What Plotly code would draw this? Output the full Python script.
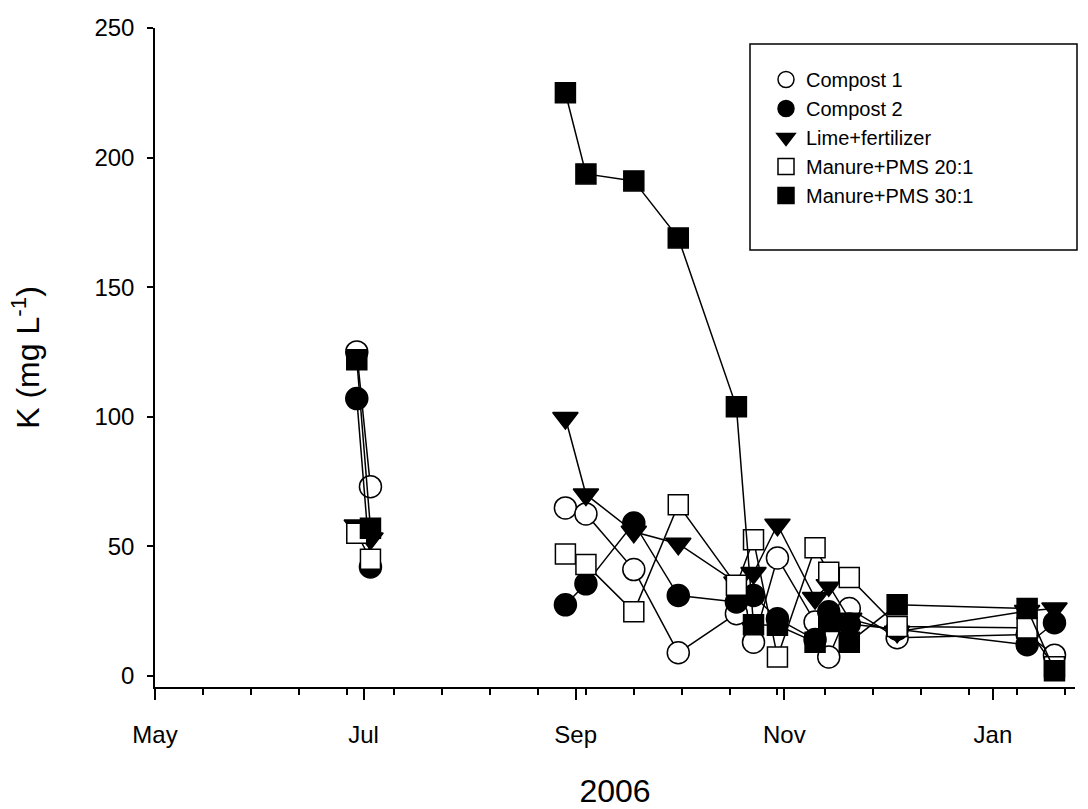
import plotly.graph_objects as go

# ---- data ----
dates_summer = ["2006-06-29", "2006-07-03"]
dates_fall = ["2006-08-29", "2006-09-04", "2006-09-18", "2006-10-01", "2006-10-18",
              "2006-10-23", "2006-10-30", "2006-11-10", "2006-11-14", "2006-11-20",
              "2006-12-04", "2007-01-11", "2007-01-19"]

compost1_summer = [125, 73]
compost1_fall = [64.8, 62.5, 41, 8.9, 24, 13, 45.5, 20.8, 7.3, 26, 14.7, 16, 8]
compost2_summer = [107, 42]
compost2_fall = [27.4, 35.5, 59, 31, 28.5, 31, 22, 14, 24.7, 20, 18, 12, 20.5]
lime_summer = [58, 53]
lime_fall = [99.5, 70, 55.6, 51, 36, 39.7, 58.3, 30, 35, 22, 17, 25, 26]
m20_summer = [55, 45]
m20_fall = [47, 43, 24.7, 66, 35, 52.5, 7.3, 49.4, 40, 38, 19, 18.5, 3.5]
m30_summer = [122, 57]
m30_fall = [225, 193.7, 191, 169, 103.8, 19.7, 19.5, 13, 21, 13, 27.4, 26, 2]

series_names = ["Compost 1", "Compost 2", "Lime+fertilizer", "Manure+PMS 20:1", "Manure+PMS 30:1"]
series_summer = [compost1_summer, compost2_summer, lime_summer, m20_summer, m30_summer]
series_fall = [compost1_fall, compost2_fall, lime_fall, m20_fall, m30_fall]

y_ticks = [0, 50, 100, 150, 200, 250]

# ---- styles ----
styles = [
    dict(symbol="circle", color="white", size=22),
    dict(symbol="circle", color="black", size=22),
    dict(symbol="triangle-down", color="black", size=22),
    dict(symbol="square", color="white", size=20),
    dict(symbol="square", color="black", size=20),
]

FONT = "Liberation Sans, Arial, Helvetica, sans-serif"

fig = go.Figure()
for name, s, f, st in zip(series_names, series_summer, series_fall, styles):
    x = dates_summer + [None] + dates_fall
    y = s + [None] + f
    fig.add_trace(go.Scatter(
        x=x, y=y, name=name, mode="lines+markers", connectgaps=False, showlegend=False,
        line=dict(color="black", width=1.5),
        marker=dict(symbol=st["symbol"], size=st["size"], color=st["color"],
                    line=dict(color="black", width=1.5)),
    ))
# legend entries: markers only, as in the reference
for name, st in zip(series_names, styles):
    fig.add_trace(go.Scatter(
        x=[None], y=[None], name=name, mode="markers", showlegend=True,
        marker=dict(symbol=st["symbol"], size=st["size"], color=st["color"],
                    line=dict(color="black", width=1.5)),
    ))

fig.update_layout(
    width=1088, height=809,
    margin=dict(l=155, r=13, t=28, b=122),
    paper_bgcolor="white", plot_bgcolor="white",
    font=dict(family=FONT, color="black", size=22),
    showlegend=True,
    legend=dict(
        x=(766 - 155) / 920, y=(687 - 60) / 659, xanchor="left", yanchor="top",
        bgcolor="rgba(0,0,0,0)", borderwidth=0,
        font=dict(family=FONT, size=20, color="black"),
        tracegroupgap=0, itemsizing="trace",
    ),
    shapes=[dict(type="rect", xref="paper", yref="paper",
                 x0=(750 - 155) / 920, x1=(1077 - 155) / 920,
                 y0=(687 - 250) / 659, y1=(687 - 44) / 659,
                 line=dict(color="black", width=1.5), fillcolor="white", layer="below")],
)

fig.update_xaxes(
    type="date", range=["2006-05-01", "2007-01-25"], automargin=False,
    showgrid=False, zeroline=False, showline=True, linecolor="black", linewidth=1.5,
    ticks="outside", ticklen=11, tickwidth=1.5, tickcolor="black",
    tick0="2006-05-01", dtick="M2", tickformat="%b",
    tickfont=dict(size=24, family=FONT), ticklabelstandoff=14,
    minor=dict(ticks="outside", ticklen=6, tickwidth=1.5, tickcolor="black",
               tick0="2006-05-01", dtick=14 * 86400000, showgrid=False),
    title=dict(text="2006", font=dict(size=32, family=FONT), standoff=36),
)
fig.update_yaxes(
    range=[-4.3, 250], tickvals=y_ticks, automargin=False,
    showgrid=False, zeroline=False, showline=True, linecolor="black", linewidth=1.5,
    ticks="outside", ticklen=6, tickwidth=1.5, tickcolor="black",
    tickfont=dict(size=24, family=FONT), ticklabelstandoff=8,
    title=dict(text="K (mg L<sup>-1</sup>)", font=dict(size=32, family=FONT), standoff=45),
)

fig.write_html("out.html")
